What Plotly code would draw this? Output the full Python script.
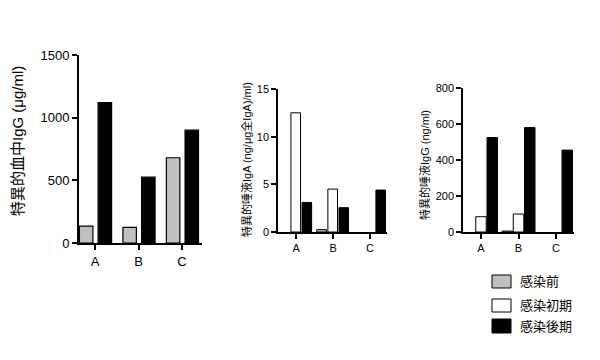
import plotly.graph_objects as go

W, H = 600, 360
OFF = 8  # page body margin offset
groups = ["A", "B", "C"]
series_names = ["感染前", "感染初期", "感染後期"]
colors = ["#c0c0c0", "#ffffff", "#000000"]

# Chart 1: serum IgG (only before / late)
serum_igg_pre = [135, 125, 680]
serum_igg_late = [1120, 525, 900]
# Chart 2: saliva IgA
saliva_iga_pre = [0, 0.25, 0]
saliva_iga_early = [12.5, 4.5, 0]
saliva_iga_late = [3.1, 2.55, 4.4]
# Chart 3: saliva IgG
saliva_igg_pre = [0, 5, 0]
saliva_igg_early = [85, 100, 0]
saliva_igg_late = [525, 580, 455]

FONT = "Arial, 'Liberation Sans', 'Noto Sans CJK JP'"


def px_x(p):
    return (p - OFF) / W


def px_y(p):
    return 1 - (p - OFF) / H


def lw_for(vals, w):
    return [w if v > 0 else 0 for v in vals]


fig = go.Figure()

# chart 1
fig.add_trace(go.Bar(x=groups, y=serum_igg_pre, name=series_names[0],
                     marker=dict(color=colors[0], line=dict(color="black", width=lw_for(serum_igg_pre, 1.2))),
                     offset=-0.36, width=0.31, xaxis="x", yaxis="y", showlegend=False))
fig.add_trace(go.Bar(x=groups, y=serum_igg_late, name=series_names[2],
                     marker=dict(color=colors[2], line=dict(color="black", width=lw_for(serum_igg_late, 1.2))),
                     offset=0.07, width=0.31, xaxis="x", yaxis="y", showlegend=False))
# chart 2
for vals, c, off, nm in [(saliva_iga_pre, colors[0], -0.44, series_names[0]),
                         (saliva_iga_early, colors[1], -0.14, series_names[1]),
                         (saliva_iga_late, colors[2], 0.16, series_names[2])]:
    fig.add_trace(go.Bar(x=groups, y=vals, name=nm,
                         marker=dict(color=c, line=dict(color="black", width=lw_for(vals, 1))),
                         offset=off, width=0.26, xaxis="x2", yaxis="y2", showlegend=False))
# chart 3
for vals, c, off, nm in [(saliva_igg_pre, colors[0], -0.44, series_names[0]),
                         (saliva_igg_early, colors[1], -0.14, series_names[1]),
                         (saliva_igg_late, colors[2], 0.16, series_names[2])]:
    fig.add_trace(go.Bar(x=groups, y=vals, name=nm,
                         marker=dict(color=c, line=dict(color="black", width=lw_for(vals, 1))),
                         offset=off, width=0.28, xaxis="x3", yaxis="y3", showlegend=False))


def xax(dom, rng, size, lw, anchor):
    return dict(domain=dom, range=rng, type="category", showline=True, linecolor="black", linewidth=lw,
                ticks="outside", ticklen=5, tickwidth=lw, tickcolor="black", showgrid=False, zeroline=False,
                tickfont=dict(size=size, color="black", family=FONT), fixedrange=True,
                automargin=False, anchor=anchor)


def yax(dom, rng, dtick, size, lw, anchor):
    return dict(domain=dom, range=rng, dtick=dtick, showline=True, linecolor="black", linewidth=lw,
                ticks="outside", ticklen=5, tickwidth=lw, tickcolor="black", showgrid=False, zeroline=False,
                tickfont=dict(size=size, color="black", family=FONT), anchor=anchor, fixedrange=True,
                automargin=False)


# legend drawn as swatches + labels
legend_shapes = []
legend_annots = []
rows = [(275, 288), (299, 312), (319, 333)]
for (y0, y1), c, nm in zip(rows, colors, series_names):
    legend_shapes.append(dict(type="rect", xref="paper", yref="paper",
                              x0=px_x(492), x1=px_x(511), y0=px_y(y1), y1=px_y(y0),
                              fillcolor=c, line=dict(color="black", width=1)))
    legend_annots.append(dict(text=nm, x=px_x(518), y=px_y((y0 + y1) / 2), xref="paper", yref="paper",
                              xanchor="left", yanchor="middle", showarrow=False,
                              font=dict(size=13, family=FONT, color="black")))

fig.update_layout(
    width=W, height=H, margin=dict(l=0, r=0, t=0, b=0, autoexpand=False),
    paper_bgcolor="white", plot_bgcolor="white",
    font=dict(family=FONT, color="black"),
    barmode="overlay", showlegend=False,
    xaxis=xax([px_x(79), px_x(202)], [-0.37, 2.46], 13, 2, "y"),
    yaxis=yax([px_y(243), px_y(55)], [0, 1500], 500, 13, 2, "x"),
    xaxis2=xax([px_x(278), px_x(387)], [-0.49, 2.46], 11, 1.5, "y2"),
    yaxis2=yax([px_y(232), px_y(89)], [0, 15], 5, 11, 1.5, "x2"),
    xaxis3=xax([px_x(463), px_x(574)], [-0.48, 2.48], 11, 1.5, "y3"),
    yaxis3=yax([px_y(232), px_y(88)], [0, 800], 200, 11, 1.5, "x3"),
    shapes=legend_shapes,
    annotations=[
        dict(text="特異的血中IgG (μg/ml)", textangle=-90, x=px_x(17), y=px_y(141), xref="paper", yref="paper",
             xanchor="center", showarrow=False, font=dict(size=15, family=FONT, color="black")),
        dict(text="特異的唾液IgA (ng/μg全IgA)/ml)", textangle=-90, x=px_x(246), y=px_y(160), xref="paper", yref="paper",
             xanchor="center", showarrow=False, font=dict(size=11, family=FONT, color="black")),
        dict(text="特異的唾液IgG (ng/ml)", textangle=-90, x=px_x(424), y=px_y(165), xref="paper", yref="paper",
             xanchor="center", showarrow=False, font=dict(size=11, family=FONT, color="black")),
    ] + legend_annots,
)

fig.write_html("out.html")
